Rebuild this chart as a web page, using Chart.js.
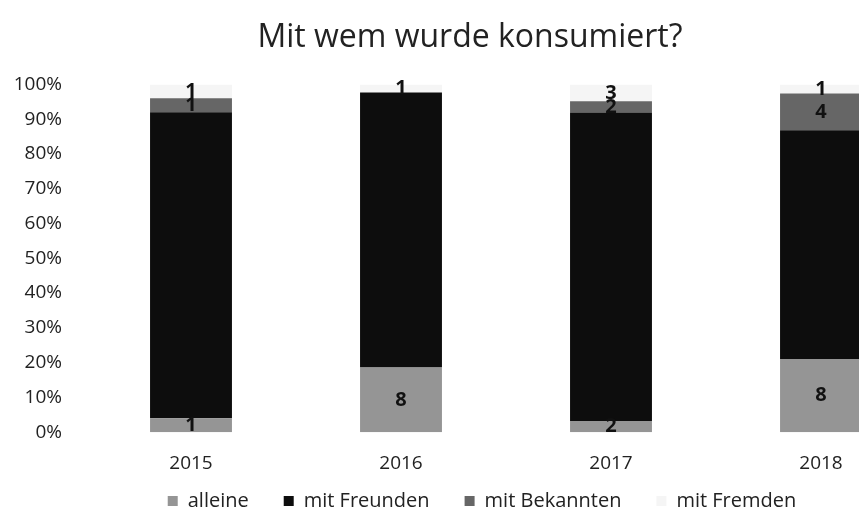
<!DOCTYPE html>
<html>
<head>
<meta charset="utf-8">
<script src="https://cdn.jsdelivr.net/npm/chart.js@4"></script>
<style>
  html, body { margin: 0; padding: 0; background: #fff; overflow: hidden; }
</style>
</head>
<body>
<canvas id="chart" width="940" height="522"></canvas>
<script>
// counts per year (labels show counts, bars are 100% stacked)
const years = ["2015", "2016", "2017", "2018"];
const alleine = [1, 8, 2, 8];
const mitFreunden = [22, 34, 55, 25];
const mitBekannten = [1, 0, 2, 4];
const mitFremden = [1, 1, 3, 1];

const totals = years.map((y, i) => alleine[i] + mitFreunden[i] + mitBekannten[i] + mitFremden[i]);
const pct = arr => arr.map((v, i) => v / totals[i] * 100);

const series = [
    { label: "alleine", counts: alleine, color: "#959595", showLabel: true },
    { label: "mit Freunden", counts: mitFreunden, color: "#0d0d0d", showLabel: false },
    { label: "mit Bekannten", counts: mitBekannten, color: "#666666", showLabel: true },
    { label: "mit Fremden", counts: mitFremden, color: "#f5f5f5", showLabel: true }
];

// legend keeps wide gaps between items, but its empty top part is taken back
const LEGEND_TRIM = 39;

const segmentLabels = {
    id: "segmentLabels",
    afterInit(chart) {
        const lg = chart.legend;
        const fit = lg.fit.bind(lg);
        lg.fit = function () { fit(); this.height -= LEGEND_TRIM; };
    },
    afterLayout(chart) {
        const lg = chart.legend;
        lg.top -= LEGEND_TRIM;
        lg.left += 12;
        lg.right += 12;
    },
    // count in the middle of each segment
    afterDatasetsDraw(chart) {
        const ctx = chart.ctx;
        ctx.save();
        ctx.font = "bold 20px 'Open Sans'";
        ctx.fillStyle = "#111";
        ctx.textAlign = "center";
        ctx.textBaseline = "middle";
        chart.data.datasets.forEach((ds, di) => {
            if (!series[di].showLabel) return;
            chart.getDatasetMeta(di).data.forEach((bar, i) => {
                const n = series[di].counts[i];
                if (!n) return;
                ctx.fillText(String(n), bar.x, (bar.y + bar.base) / 2);
            });
        });
        ctx.restore();
    }
};

new Chart(document.getElementById("chart"), {
    type: "bar",
    data: {
        labels: years,
        datasets: series.map(s => ({
            label: s.label,
            data: pct(s.counts),
            backgroundColor: s.color,
            borderWidth: 0,
            categoryPercentage: 1,
            barPercentage: 0.39
        }))
    },
    options: {
        responsive: false,
        animation: false,
        layout: { padding: { left: 14, right: 14, bottom: 1 } },
        plugins: {
            title: {
                display: true,
                text: "Mit wem wurde konsumiert?",
                color: "#222",
                font: { family: "'Open Sans'", size: 32, weight: "normal" },
                padding: { top: 19, bottom: 27 }
            },
            legend: {
                position: "bottom",
                labels: {
                    color: "#222",
                    font: { family: "'Open Sans'", size: 20 },
                    boxWidth: 10,
                    boxHeight: 10,
                    padding: 35
                }
            },
            tooltip: { enabled: false }
        },
        scales: {
            x: {
                stacked: true,
                grid: { display: false, drawTicks: false },
                border: { display: false },
                ticks: { color: "#222", font: { family: "'Open Sans'", size: 19 }, padding: 20 }
            },
            y: {
                stacked: true,
                min: 0,
                max: 100,
                grid: { display: false, drawTicks: false },
                border: { display: false },
                afterFit: scale => { scale.width = 72; },
                ticks: {
                    stepSize: 10,
                    color: "#222",
                    padding: 24,
                    font: { family: "'Open Sans'", size: 19 },
                    callback: v => v + "%"
                }
            }
        }
    },
    plugins: [segmentLabels]
});
</script>
</body>
</html>
